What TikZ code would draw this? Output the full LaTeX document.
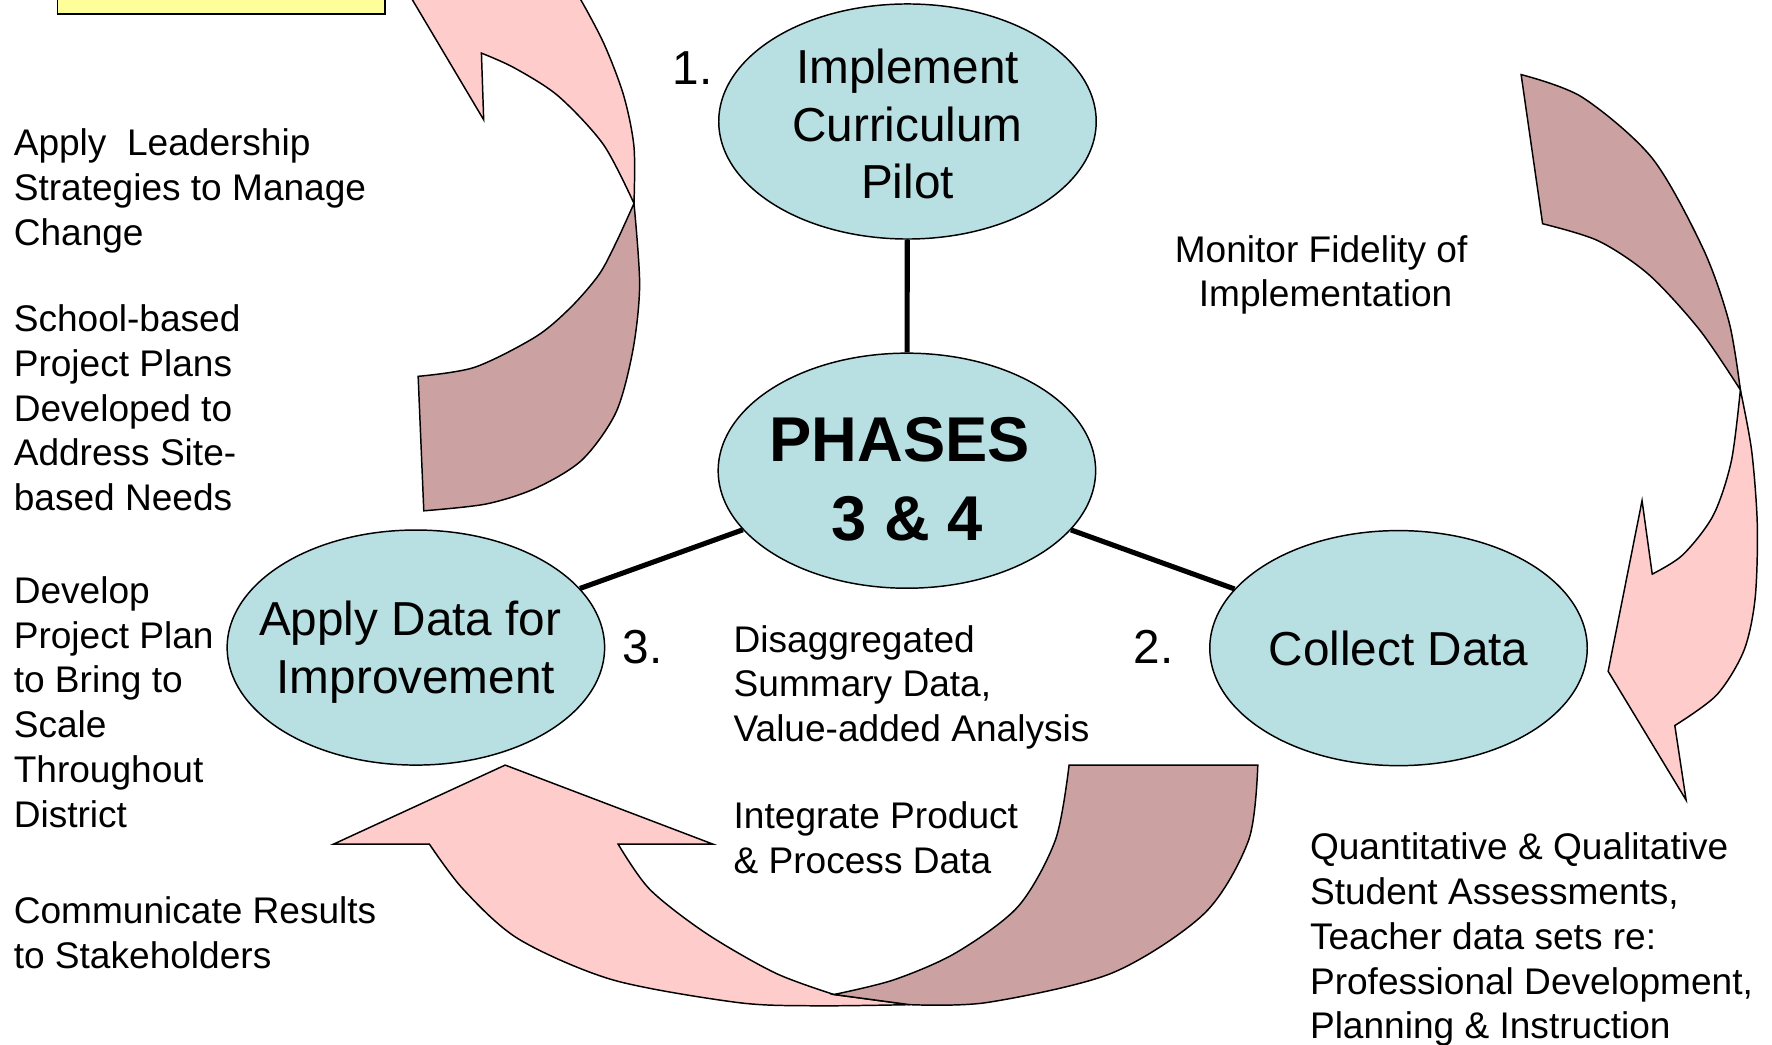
\documentclass[tikz,border=0pt]{standalone}
\usepackage{fontspec}
\setmainfont{Liberation Sans}
\usetikzlibrary{shapes.geometric}
\definecolor{tealL}{RGB}{184,223,226}
\definecolor{pinkL}{RGB}{255,204,204}
\definecolor{pinkD}{RGB}{204,161,161}
\definecolor{yellowL}{RGB}{255,255,153}
\begin{document}
\begin{tikzpicture}[x=1pt,y=-1pt,
  phase/.style={ellipse, draw=black, line width=1.3, fill=tealL, minimum width=334, minimum height=208,
    inner xsep=-40pt, inner ysep=-20pt, align=center, font=\fontsize{42.2}{51}\selectfont},
  side/.style={anchor=north west, inner sep=0, align=left, font=\fontsize{32.8}{39.6}\selectfont},
  num/.style={anchor=base west, inner sep=0, font=\fontsize{42.2}{51}\selectfont},
  conn/.style={line width=4.5},
  band/.style={draw=black, line width=1.3, line join=miter}]
\useasboundingbox (0,0) rectangle (1568,924);
\clip (0,0) rectangle (1568,924);

% yellow box (cut by top edge)
\node[draw=black, line width=1.3, fill=yellowL, minimum width=290, minimum height=40, inner sep=0, anchor=south west] (ybox) at (50,13) {};

% top-left curved arrow: front (pink) part
\path[band, fill=pinkL] (428,106) -- (346,-32) -- (560,-60) -- plot[smooth] coordinates {(500,-20) (514,0) (535,40) (552,85) (561,130) (561,180)}
  -- plot[smooth] coordinates {(561,180) (534,128) (494,85) (455,60) (426,47)} -- cycle;
% top-left curved arrow: back (dark) part
\path[band, fill=pinkD] plot[smooth] coordinates {(561,180) (545,215) (530,243) (505,272) (474,298) (420,325) (370,333)}
  -- plot[smooth] coordinates {(375,452) (430,446) (474,432) (515,407) (545,365) (560,310) (566,252) (561,180)} -- cycle;

% right curved arrow: back (dark) part
\path[band, fill=pinkD] (1346,66) -- plot[smooth] coordinates {(1365,198) (1414,213) (1459,243) (1504,292) (1540,345)}
  -- plot[smooth] coordinates {(1540,345) (1530,285) (1507,220) (1462,140) (1400,86) (1346,66)} -- cycle;
% right curved arrow: front (pink) part
\path[band, fill=pinkL] plot[smooth] coordinates {(1540,345) (1550,399) (1555,465) (1553,530) (1543,576) (1519,615) (1482,642)}
  -- (1492,708) -- (1423,594) -- (1453,443)
  -- plot[smooth] coordinates {(1462,508) (1489,491) (1516,456) (1532,408) (1540,345)} -- cycle;

% bottom curved arrow: front (pink) part
\path[band, fill=pinkL] (447,677) -- (631,747) -- plot[smooth] coordinates {(547,747) (575,787) (625,826) (686,861) (738,880)}
  -- plot[smooth] coordinates {(805,889) (720,890) (652,887) (542,867) (459,831) (410,787) (380,747)} -- (295,747) -- cycle;
% bottom curved arrow: back (dark) part
\path[band, fill=pinkD] (946,677) -- plot[smooth] coordinates {(1113,677) (1105,743) (1066,808) (984,861) (874,887) (805,889)}
  -- plot[smooth] coordinates {(738,880) (791,867) (846,843) (901,802) (934,743) (946,677)} -- cycle;

% phase ellipses
\node[phase] (pilot) at (803,107.5) {\rule{0pt}{35pt}Implement\\Curriculum\\Pilot};
\node[phase, font=\fontsize{56}{70}\selectfont\bfseries] (phases) at (802.5,416.5) {\rule{0pt}{55pt}PHASES\kern13pt\\3 \& 4};
\node[phase] (apply) at (368,573) {\rule{0pt}{39pt}Apply Data for\kern10pt\\Improvement};
\node[phase] (collect) at (1237.5,573.5) {Collect Data};

% connectors
\draw[conn] (pilot) -- (phases);
\draw[conn] (phases) -- (apply);
\draw[conn] (phases) -- (collect);

% step numbers
\node[num] (n1) at (595,75) {1.};
\node[num] (n2) at (1003,587) {2.};
\node[num] (n3) at (551,587) {3.};

% side texts
\node[side] (tLead) at (12,114) {Apply~ Leadership\\Strategies to Manage\\Change};
\node[side] (tSchool) at (12,269.5) {School-based\\Project Plans\\Developed to\\Address Site-\\based Needs};
\node[side] (tDevelop) at (12,510) {Develop\\Project Plan\\to Bring to\\Scale\\Throughout\\District};
\node[side] (tComm) at (12,793) {Communicate Results\\to Stakeholders};
\node[side, anchor=north, align=center] (tMonitor) at (1169,208) {Monitor Fidelity of\\\kern8pt Implementation};
\node[side] (tQuant) at (1159,737) {Quantitative \& Qualitative\\Student Assessments,\\Teacher data sets re:\\Professional Development,\\Planning \& Instruction};
\node[side] (tDisagg) at (649,553) {Disaggregated\\Summary Data,\\Value-added Analysis};
\node[side] (tIntegrate) at (649,709) {Integrate Product\\\& Process Data};
\end{tikzpicture}
\end{document}
